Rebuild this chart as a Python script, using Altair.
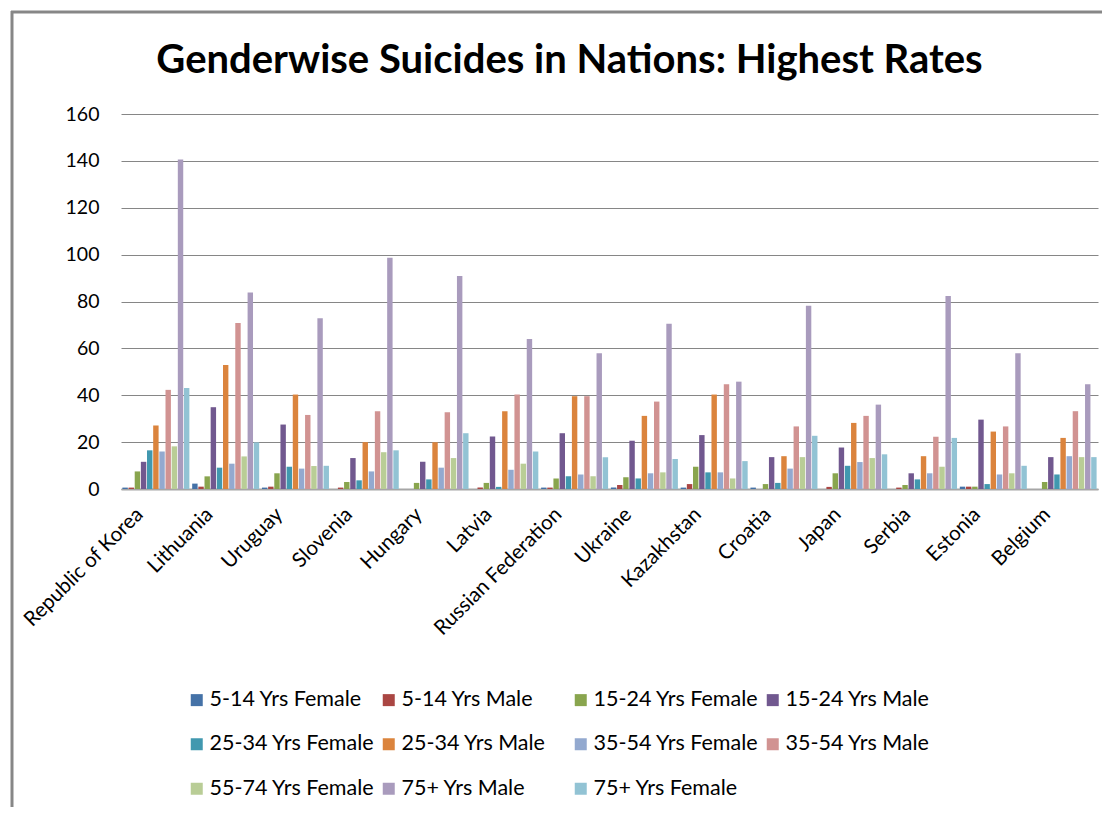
import altair as alt
import pandas as pd

countries = ["Republic of Korea", "Lithuania", "Uruguay", "Slovenia", "Hungary", "Latvia",
             "Russian Federation", "Ukraine", "Kazakhstan", "Croatia", "Japan", "Serbia",
             "Estonia", "Belgium"]

series_names = ["5-14 Yrs Female", "5-14 Yrs Male", "15-24 Yrs Female", "15-24 Yrs Male",
                "25-34 Yrs Female", "25-34 Yrs Male", "35-54 Yrs Female", "35-54 Yrs Male",
                "55-74 Yrs Female", "75+ Yrs Male", "75+ Yrs Female"]

f5_14 = [0.6, 2.3, 0.6, 0, 0, 0, 0.6, 0.6, 0.6, 0.6, 0, 0, 1.0, 0]
m5_14 = [0.6, 1.0, 1.0, 0.6, 0, 0.6, 0.6, 1.7, 2.1, 0, 0.9, 0.6, 1.0, 0]
f15_24 = [7.5, 5.4, 6.7, 3.0, 2.6, 2.6, 4.5, 5.0, 9.5, 2.1, 6.7, 1.7, 1.0, 3.0]
m15_24 = [11.6, 34.9, 27.5, 13.2, 11.6, 22.4, 23.8, 20.6, 23.0, 13.6, 17.7, 6.7, 29.6, 13.6]
f25_34 = [16.5, 9.1, 9.5, 3.7, 4.1, 0.9, 5.4, 4.5, 7.1, 2.6, 9.9, 4.1, 2.1, 6.2]
m25_34 = [27.1, 52.9, 40.3, 20.0, 20.0, 33.2, 39.6, 31.2, 40.3, 14.0, 28.2, 14.0, 24.5, 21.8]
f35_54 = [16.0, 10.8, 8.7, 7.5, 9.1, 8.2, 6.2, 6.7, 7.1, 8.7, 11.5, 6.7, 6.2, 14.0]
m35_54 = [42.3, 70.8, 31.6, 33.2, 32.8, 40.3, 39.6, 37.3, 44.7, 26.7, 31.2, 22.3, 26.7, 33.2]
f55_74 = [18.2, 13.9, 9.8, 15.7, 13.2, 10.8, 5.4, 7.1, 4.5, 13.6, 13.2, 9.5, 6.7, 13.6]
m75 = [140.6, 83.8, 72.9, 98.7, 90.9, 64.0, 57.9, 70.5, 45.8, 78.2, 36.0, 82.3, 57.9, 44.7]
f75 = [43.1, 19.9, 9.9, 16.5, 23.8, 16.0, 13.6, 12.8, 11.9, 22.7, 14.8, 21.8, 9.9, 13.6]

colors = ["#4572A7", "#AA4643", "#89A54E", "#71588F", "#4198AF", "#DB843D",
          "#93A9CF", "#D19392", "#B9CD96", "#A99BBD", "#92C3D4"]

all_series = [f5_14, m5_14, f15_24, m15_24, f25_34, m25_34, f35_54, m35_54, f55_74, m75, f75]
rows = []
for name, vals in zip(series_names, all_series):
    for c, v in zip(countries, vals):
        rows.append({"Country": c, "Group": name, "Rate": v})
df = pd.DataFrame(rows)

FONT = "Lato"

bars = alt.Chart(df).mark_bar().encode(
    x=alt.X("Country:N", sort=countries, title=None,
            scale=alt.Scale(paddingInner=0.04, paddingOuter=0.02),
            axis=alt.Axis(labelAngle=-45, labelAlign="right", labelBaseline="middle",
                          labelFontSize=20.5, labelFont=FONT, labelColor="#000000",
                          labelPadding=22, labelOffset=-16, ticks=False,
                          domainColor="#A6A6A6", domainWidth=2, labelLimit=300)),
    xOffset=alt.XOffset("Group:N", sort=series_names, scale=alt.Scale(paddingInner=0.12)),
    y=alt.Y("Rate:Q", title=None,
            scale=alt.Scale(domain=[0, 160], nice=False),
            axis=alt.Axis(values=list(range(0, 161, 20)), domain=False, ticks=False,
                          labelFontSize=19.5, labelFont=FONT, labelColor="#000000",
                          labelPadding=22, gridColor="#868686", gridWidth=1)),
    color=alt.Color("Group:N", sort=series_names,
                    scale=alt.Scale(domain=series_names, range=colors),
                    legend=alt.Legend(title=None, orient="none", legendX=65, legendY=575,
                                      columns=4, direction="horizontal", gridAlign="all",
                                      symbolType="square", symbolSize=144, symbolStrokeWidth=0,
                                      labelFontSize=21.5, labelFont=FONT, labelColor="#000000",
                                      labelOffset=2, columnPadding=3, rowPadding=21.5,
                                      labelLimit=400, padding=0)),
)

frame_src = pd.DataFrame({"k": [0]})
border_left = alt.Chart(frame_src).mark_rule(color="#878787", strokeWidth=3).encode(
    x=alt.value(-109), y=alt.value(-103), y2=alt.value(720))
border_top = alt.Chart(frame_src).mark_rule(color="#878787", strokeWidth=3).encode(
    x=alt.value(-110), x2=alt.value(1010), y=alt.value(-102))

chart = alt.layer(bars, border_left, border_top).properties(
    width=977, height=375,
    padding={"left": 113, "top": 106, "right": 4, "bottom": 318},
    autosize=alt.AutoSizeParams(type="none"),
    title=alt.TitleParams("Genderwise Suicides in Nations: Highest Rates", font=FONT,
                          fontSize=40, fontWeight="bold", color="#000000",
                          anchor="middle", frame="group", dx=-40, offset=-71),
).configure(background="white").configure_view(strokeWidth=0, stroke="transparent")

chart.save("out.html", embed_options={"renderer": "svg", "actions": False})
